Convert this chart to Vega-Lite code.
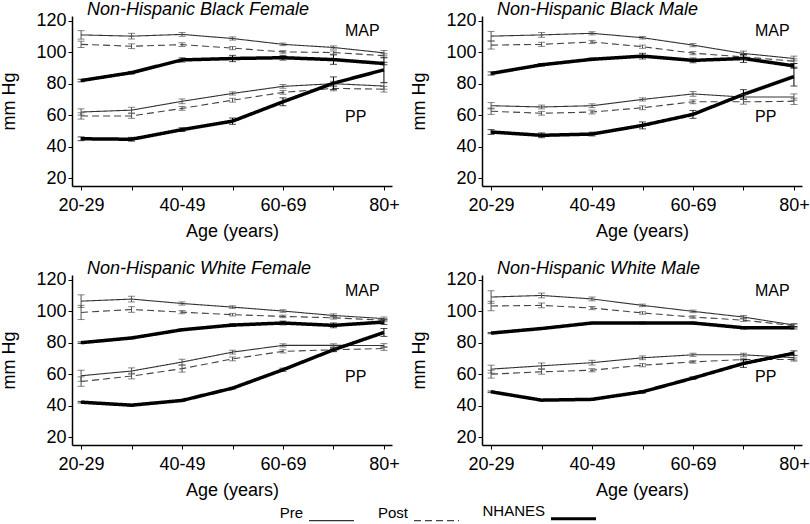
{
"$schema": "https://vega.github.io/schema/vega-lite/v6.json",
"padding": {"top": 0, "left": 0, "right": 0, "bottom": 0},
"background": "white",
"config": {
  "font": "Liberation Sans",
  "view": {"stroke": null},
  "axis": {"domainColor": "black", "domainWidth": 1.5, "tickColor": "black", "tickSize": 4, "tickWidth": 1, "labelFontSize": 18, "titleFontSize": 18, "titleFontWeight": "normal", "labelColor": "black", "titleColor": "black", "grid": false},
  "title": {"fontSize": 18, "fontStyle": "italic", "fontWeight": "normal", "anchor": "start", "frame": "group", "dx": 15, "dy": 10, "offset": 3, "baseline": "alphabetic", "color": "black"},
  "legend": {"labelFontSize": 15, "labelColor": "black"}
},
"datasets": {
  "labels": [
    {"p": "BF", "t": "MAP", "a": 5.57, "v": 113.4}, {"p": "BF", "t": "PP", "a": 5.44, "v": 59},
    {"p": "BM", "t": "MAP", "a": 5.57, "v": 113.4}, {"p": "BM", "t": "PP", "a": 5.44, "v": 59},
    {"p": "WF", "t": "MAP", "a": 5.57, "v": 112.8}, {"p": "WF", "t": "PP", "a": 5.44, "v": 58.5},
    {"p": "WM", "t": "MAP", "a": 5.57, "v": 112.8}, {"p": "WM", "t": "PP", "a": 5.44, "v": 58.1}
  ],
  "bp": [
    {"p":"BF","m":"MAP","s":"Pre","a":0,"v":111,"e":2.7},{"p":"BF","m":"MAP","s":"Pre","a":1,"v":110.2,"e":1.8},{"p":"BF","m":"MAP","s":"Pre","a":2,"v":111.3,"e":1.2},{"p":"BF","m":"MAP","s":"Pre","a":3,"v":108.7,"e":1.0},{"p":"BF","m":"MAP","s":"Pre","a":4,"v":105,"e":0.8},{"p":"BF","m":"MAP","s":"Pre","a":5,"v":103,"e":1.0},{"p":"BF","m":"MAP","s":"Pre","a":6,"v":99.6,"e":1.5},
    {"p":"BF","m":"MAP","s":"Post","a":0,"v":105,"e":2.0},{"p":"BF","m":"MAP","s":"Post","a":1,"v":103.8,"e":1.5},{"p":"BF","m":"MAP","s":"Post","a":2,"v":104.8,"e":1.2},{"p":"BF","m":"MAP","s":"Post","a":3,"v":102.6,"e":1.0},{"p":"BF","m":"MAP","s":"Post","a":4,"v":100.2,"e":0.8},{"p":"BF","m":"MAP","s":"Post","a":5,"v":99.8,"e":1.0},{"p":"BF","m":"MAP","s":"Post","a":6,"v":97.8,"e":1.5},
    {"p":"BF","m":"MAP","s":"NHANES","a":0,"v":82,"e":0.8},{"p":"BF","m":"MAP","s":"NHANES","a":1,"v":87,"e":0.8},{"p":"BF","m":"MAP","s":"NHANES","a":2,"v":95.1,"e":1.3},{"p":"BF","m":"MAP","s":"NHANES","a":3,"v":96,"e":2.0},{"p":"BF","m":"MAP","s":"NHANES","a":4,"v":96.5,"e":1.5},{"p":"BF","m":"MAP","s":"NHANES","a":5,"v":95.3,"e":3.0},{"p":"BF","m":"MAP","s":"NHANES","a":6,"v":92.8,"e":0.8},
    {"p":"BF","m":"PP","s":"Pre","a":0,"v":62,"e":2.0},{"p":"BF","m":"PP","s":"Pre","a":1,"v":63.2,"e":1.8},{"p":"BF","m":"PP","s":"Pre","a":2,"v":68.8,"e":1.5},{"p":"BF","m":"PP","s":"Pre","a":3,"v":73.8,"e":1.0},{"p":"BF","m":"PP","s":"Pre","a":4,"v":78.3,"e":1.2},{"p":"BF","m":"PP","s":"Pre","a":5,"v":80,"e":1.5},{"p":"BF","m":"PP","s":"Pre","a":6,"v":78.5,"e":2.0},
    {"p":"BF","m":"PP","s":"Post","a":0,"v":59.5,"e":2.0},{"p":"BF","m":"PP","s":"Post","a":1,"v":59.5,"e":1.5},{"p":"BF","m":"PP","s":"Post","a":2,"v":64.3,"e":1.2},{"p":"BF","m":"PP","s":"Post","a":3,"v":69.5,"e":1.2},{"p":"BF","m":"PP","s":"Post","a":4,"v":74.5,"e":1.2},{"p":"BF","m":"PP","s":"Post","a":5,"v":77,"e":1.5},{"p":"BF","m":"PP","s":"Post","a":6,"v":76.5,"e":1.8},
    {"p":"BF","m":"PP","s":"NHANES","a":0,"v":45,"e":1.2},{"p":"BF","m":"PP","s":"NHANES","a":1,"v":44.7,"e":1.2},{"p":"BF","m":"PP","s":"NHANES","a":2,"v":50.8,"e":1.2},{"p":"BF","m":"PP","s":"NHANES","a":3,"v":56.2,"e":2.0},{"p":"BF","m":"PP","s":"NHANES","a":4,"v":68.5,"e":2.5},{"p":"BF","m":"PP","s":"NHANES","a":5,"v":80.3,"e":4.0},{"p":"BF","m":"PP","s":"NHANES","a":6,"v":88.8,"e":8.0},

    {"p":"BM","m":"MAP","s":"Pre","a":0,"v":110.2,"e":3.0},{"p":"BM","m":"MAP","s":"Pre","a":1,"v":111,"e":1.5},{"p":"BM","m":"MAP","s":"Pre","a":2,"v":112,"e":1.0},{"p":"BM","m":"MAP","s":"Pre","a":3,"v":109.2,"e":0.8},{"p":"BM","m":"MAP","s":"Pre","a":4,"v":104.5,"e":1.0},{"p":"BM","m":"MAP","s":"Pre","a":5,"v":99.2,"e":1.5},{"p":"BM","m":"MAP","s":"Pre","a":6,"v":96,"e":1.5},
    {"p":"BM","m":"MAP","s":"Post","a":0,"v":104.5,"e":2.5},{"p":"BM","m":"MAP","s":"Post","a":1,"v":105,"e":1.3},{"p":"BM","m":"MAP","s":"Post","a":2,"v":106.5,"e":1.0},{"p":"BM","m":"MAP","s":"Post","a":3,"v":103.5,"e":1.0},{"p":"BM","m":"MAP","s":"Post","a":4,"v":99.4,"e":1.0},{"p":"BM","m":"MAP","s":"Post","a":5,"v":97,"e":1.5},{"p":"BM","m":"MAP","s":"Post","a":6,"v":94.3,"e":1.5},
    {"p":"BM","m":"MAP","s":"NHANES","a":0,"v":86.5,"e":1.0},{"p":"BM","m":"MAP","s":"NHANES","a":1,"v":92,"e":0.8},{"p":"BM","m":"MAP","s":"NHANES","a":2,"v":95.5,"e":0.8},{"p":"BM","m":"MAP","s":"NHANES","a":3,"v":97.5,"e":1.8},{"p":"BM","m":"MAP","s":"NHANES","a":4,"v":94.8,"e":1.5},{"p":"BM","m":"MAP","s":"NHANES","a":5,"v":96,"e":2.5},{"p":"BM","m":"MAP","s":"NHANES","a":6,"v":91.3,"e":1.5},
    {"p":"BM","m":"PP","s":"Pre","a":0,"v":66,"e":2.0},{"p":"BM","m":"PP","s":"Pre","a":1,"v":65.2,"e":1.2},{"p":"BM","m":"PP","s":"Pre","a":2,"v":66,"e":1.2},{"p":"BM","m":"PP","s":"Pre","a":3,"v":70,"e":1.0},{"p":"BM","m":"PP","s":"Pre","a":4,"v":73.5,"e":1.5},{"p":"BM","m":"PP","s":"Pre","a":5,"v":71.5,"e":1.5},{"p":"BM","m":"PP","s":"Pre","a":6,"v":71.5,"e":2.0},
    {"p":"BM","m":"PP","s":"Post","a":0,"v":62.5,"e":2.0},{"p":"BM","m":"PP","s":"Post","a":1,"v":61.2,"e":1.2},{"p":"BM","m":"PP","s":"Post","a":2,"v":62,"e":1.2},{"p":"BM","m":"PP","s":"Post","a":3,"v":64.7,"e":1.2},{"p":"BM","m":"PP","s":"Post","a":4,"v":68.5,"e":1.2},{"p":"BM","m":"PP","s":"Post","a":5,"v":68.5,"e":1.5},{"p":"BM","m":"PP","s":"Post","a":6,"v":68.8,"e":2.0},
    {"p":"BM","m":"PP","s":"NHANES","a":0,"v":49.3,"e":1.5},{"p":"BM","m":"PP","s":"NHANES","a":1,"v":47.2,"e":1.5},{"p":"BM","m":"PP","s":"NHANES","a":2,"v":48,"e":1.2},{"p":"BM","m":"PP","s":"NHANES","a":3,"v":53.5,"e":2.2},{"p":"BM","m":"PP","s":"NHANES","a":4,"v":60.5,"e":2.5},{"p":"BM","m":"PP","s":"NHANES","a":5,"v":73.2,"e":3.0},{"p":"BM","m":"PP","s":"NHANES","a":6,"v":84.5,"e":6.0},

    {"p":"WF","m":"MAP","s":"Pre","a":0,"v":106.4,"e":4.0},{"p":"WF","m":"MAP","s":"Pre","a":1,"v":107.7,"e":1.8},{"p":"WF","m":"MAP","s":"Pre","a":2,"v":104.9,"e":1.0},{"p":"WF","m":"MAP","s":"Pre","a":3,"v":102.6,"e":0.8},{"p":"WF","m":"MAP","s":"Pre","a":4,"v":100.1,"e":0.8},{"p":"WF","m":"MAP","s":"Pre","a":5,"v":97.3,"e":1.0},{"p":"WF","m":"MAP","s":"Pre","a":6,"v":95.3,"e":1.0},
    {"p":"WF","m":"MAP","s":"Post","a":0,"v":99.2,"e":4.5},{"p":"WF","m":"MAP","s":"Post","a":1,"v":101.1,"e":1.8},{"p":"WF","m":"MAP","s":"Post","a":2,"v":99.4,"e":1.0},{"p":"WF","m":"MAP","s":"Post","a":3,"v":97.8,"e":0.8},{"p":"WF","m":"MAP","s":"Post","a":4,"v":96.7,"e":0.8},{"p":"WF","m":"MAP","s":"Post","a":5,"v":95.8,"e":0.8},{"p":"WF","m":"MAP","s":"Post","a":6,"v":94.3,"e":1.0},
    {"p":"WF","m":"MAP","s":"NHANES","a":0,"v":80,"e":0.5},{"p":"WF","m":"MAP","s":"NHANES","a":1,"v":83,"e":0.5},{"p":"WF","m":"MAP","s":"NHANES","a":2,"v":88.2,"e":0.5},{"p":"WF","m":"MAP","s":"NHANES","a":3,"v":91.2,"e":0.8},{"p":"WF","m":"MAP","s":"NHANES","a":4,"v":92.5,"e":1.2},{"p":"WF","m":"MAP","s":"NHANES","a":5,"v":91,"e":1.5},{"p":"WF","m":"MAP","s":"NHANES","a":6,"v":93.1,"e":1.5},
    {"p":"WF","m":"PP","s":"Pre","a":0,"v":59,"e":3.5},{"p":"WF","m":"PP","s":"Pre","a":1,"v":62,"e":2.0},{"p":"WF","m":"PP","s":"Pre","a":2,"v":67.7,"e":1.8},{"p":"WF","m":"PP","s":"Pre","a":3,"v":74,"e":1.2},{"p":"WF","m":"PP","s":"Pre","a":4,"v":78.3,"e":1.0},{"p":"WF","m":"PP","s":"Pre","a":5,"v":78.3,"e":1.0},{"p":"WF","m":"PP","s":"Pre","a":6,"v":78.2,"e":1.2},
    {"p":"WF","m":"PP","s":"Post","a":0,"v":55.3,"e":3.0},{"p":"WF","m":"PP","s":"Post","a":1,"v":58.8,"e":1.8},{"p":"WF","m":"PP","s":"Post","a":2,"v":63.5,"e":2.2},{"p":"WF","m":"PP","s":"Post","a":3,"v":69.7,"e":1.2},{"p":"WF","m":"PP","s":"Post","a":4,"v":74.5,"e":1.0},{"p":"WF","m":"PP","s":"Post","a":5,"v":75.5,"e":1.0},{"p":"WF","m":"PP","s":"Post","a":6,"v":76.3,"e":1.2},
    {"p":"WF","m":"PP","s":"NHANES","a":0,"v":42.2,"e":0.5},{"p":"WF","m":"PP","s":"NHANES","a":1,"v":40.3,"e":0.5},{"p":"WF","m":"PP","s":"NHANES","a":2,"v":43.3,"e":0.5},{"p":"WF","m":"PP","s":"NHANES","a":3,"v":51.1,"e":0.5},{"p":"WF","m":"PP","s":"NHANES","a":4,"v":62.8,"e":1.0},{"p":"WF","m":"PP","s":"NHANES","a":5,"v":75.5,"e":1.2},{"p":"WF","m":"PP","s":"NHANES","a":6,"v":86.5,"e":2.5},

    {"p":"WM","m":"MAP","s":"Pre","a":0,"v":109,"e":4.0},{"p":"WM","m":"MAP","s":"Pre","a":1,"v":110,"e":1.5},{"p":"WM","m":"MAP","s":"Pre","a":2,"v":107.8,"e":1.2},{"p":"WM","m":"MAP","s":"Pre","a":3,"v":103.7,"e":0.8},{"p":"WM","m":"MAP","s":"Pre","a":4,"v":99.9,"e":0.8},{"p":"WM","m":"MAP","s":"Pre","a":5,"v":96.3,"e":1.0},{"p":"WM","m":"MAP","s":"Pre","a":6,"v":91.2,"e":1.0},
    {"p":"WM","m":"MAP","s":"Post","a":0,"v":103.3,"e":3.0},{"p":"WM","m":"MAP","s":"Post","a":1,"v":103.7,"e":1.5},{"p":"WM","m":"MAP","s":"Post","a":2,"v":102,"e":1.0},{"p":"WM","m":"MAP","s":"Post","a":3,"v":98.9,"e":0.8},{"p":"WM","m":"MAP","s":"Post","a":4,"v":96.3,"e":0.8},{"p":"WM","m":"MAP","s":"Post","a":5,"v":94.3,"e":0.8},{"p":"WM","m":"MAP","s":"Post","a":6,"v":90.8,"e":1.0},
    {"p":"WM","m":"MAP","s":"NHANES","a":0,"v":86.1,"e":0.4},{"p":"WM","m":"MAP","s":"NHANES","a":1,"v":89,"e":0.4},{"p":"WM","m":"MAP","s":"NHANES","a":2,"v":92.5,"e":0.4},{"p":"WM","m":"MAP","s":"NHANES","a":3,"v":92.5,"e":0.6},{"p":"WM","m":"MAP","s":"NHANES","a":4,"v":92.5,"e":0.6},{"p":"WM","m":"MAP","s":"NHANES","a":5,"v":89.5,"e":0.8},{"p":"WM","m":"MAP","s":"NHANES","a":6,"v":89.5,"e":0.8},
    {"p":"WM","m":"PP","s":"Pre","a":0,"v":63.2,"e":2.5},{"p":"WM","m":"PP","s":"Pre","a":1,"v":65.3,"e":1.8},{"p":"WM","m":"PP","s":"Pre","a":2,"v":67.3,"e":1.5},{"p":"WM","m":"PP","s":"Pre","a":3,"v":70.4,"e":1.2},{"p":"WM","m":"PP","s":"Pre","a":4,"v":72.3,"e":1.0},{"p":"WM","m":"PP","s":"Pre","a":5,"v":72.3,"e":1.0},{"p":"WM","m":"PP","s":"Pre","a":6,"v":70.5,"e":1.5},
    {"p":"WM","m":"PP","s":"Post","a":0,"v":60,"e":2.5},{"p":"WM","m":"PP","s":"Post","a":1,"v":61.5,"e":1.5},{"p":"WM","m":"PP","s":"Post","a":2,"v":62.5,"e":1.0},{"p":"WM","m":"PP","s":"Post","a":3,"v":65.7,"e":1.0},{"p":"WM","m":"PP","s":"Post","a":4,"v":67.8,"e":0.8},{"p":"WM","m":"PP","s":"Post","a":5,"v":69.3,"e":0.8},{"p":"WM","m":"PP","s":"Post","a":6,"v":69.3,"e":1.0},
    {"p":"WM","m":"PP","s":"NHANES","a":0,"v":48.8,"e":0.5},{"p":"WM","m":"PP","s":"NHANES","a":1,"v":43.5,"e":0.4},{"p":"WM","m":"PP","s":"NHANES","a":2,"v":44,"e":0.5},{"p":"WM","m":"PP","s":"NHANES","a":3,"v":48.8,"e":0.8},{"p":"WM","m":"PP","s":"NHANES","a":4,"v":57.5,"e":0.8},{"p":"WM","m":"PP","s":"NHANES","a":5,"v":66.8,"e":2.5},{"p":"WM","m":"PP","s":"NHANES","a":6,"v":73.3,"e":1.5}
  ]
},
"columns": 2,
"spacing": {"row": 89, "column": 90},
"bounds": "flush",
"concat": [
  {"width": 320, "height": 170, "title": {"text": "Non-Hispanic Black Female"},
   "layer": [
    {"data": {"name": "bp"}, "transform": [{"filter": "datum.p == 'BF'"}],
     "mark": {"type": "line"},
     "encoding": {
      "x": {"field": "a", "type": "quantitative", "title": "Age (years)", "scale": {"domain": [-0.18, 6.16], "nice": false, "zero": false}, "axis": {"values": [0,1,2,3,4,5,6], "labelExpr": "datum.value % 2 == 0 ? ['20-29','30-39','40-49','50-59','60-69','70-79','80+'][datum.value] : ''", "labelFlush": false, "labelOverlap": false, "labelPadding": 6, "titlePadding": 8}},
      "y": {"field": "v", "type": "quantitative", "title": "mm Hg", "scale": {"domain": [15, 123], "nice": false, "zero": false}, "axis": {"tickCount": 6, "titlePadding": 17, "labelPadding": 2, "labelOverlap": false, "labelBound": false}},
      "detail": {"field": "m", "type": "nominal"},
      "color": {"field": "s", "type": "nominal", "scale": {"domain": ["Pre","Post","NHANES"], "range": ["#333333","#444444","#000000"]}, "legend": {"orient": "none", "legendX": 252, "legendY": 495, "direction": "horizontal", "title": null, "symbolType": "stroke", "symbolSize": 2025, "labelOffset": -36, "labelAlign": "right", "labelBaseline": "bottom", "columnPadding": 20, "padding": 0, "encode": {"symbols": {"update": {"strokeWidth": {"signal": "datum.value === 'NHANES' ? 3 : 1.2"}, "strokeDash": {"signal": "datum.value === 'Post' ? [5,3] : [1,0]"}}}}}},
      "strokeDash": {"field": "s", "type": "nominal", "scale": {"domain": ["Pre","Post","NHANES"], "range": [[1,0],[7,4],[1,0]]}, "legend": null},
      "strokeWidth": {"condition": {"test": "datum.s == 'NHANES'", "value": 3.5}, "value": 1.1}}},
    {"data": {"name": "bp"}, "transform": [{"filter": "datum.p == 'BF'"}],
     "mark": {"type": "errorbar", "ticks": {"size": 7}, "thickness": 1},
     "encoding": {
      "x": {"field": "a", "type": "quantitative", "title": "Age (years)"},
      "y": {"field": "v", "type": "quantitative", "title": "mm Hg"},
      "yError": {"field": "e"},
      "color": {"condition": {"test": "datum.s == 'NHANES'", "value": "#000000"}, "value": "#505050"}}},
    {"data": {"name": "labels"}, "transform": [{"filter": "datum.p == 'BF'"}],
     "mark": {"type": "text", "fontSize": 16, "align": "center", "baseline": "middle", "color": "black"},
     "encoding": {"x": {"field": "a", "type": "quantitative", "title": "Age (years)"}, "y": {"field": "v", "type": "quantitative", "title": "mm Hg"}, "text": {"field": "t"}}}
   ]},
  {"width": 320, "height": 170, "title": {"text": "Non-Hispanic Black Male"},
   "layer": [
    {"data": {"name": "bp"}, "transform": [{"filter": "datum.p == 'BM'"}],
     "mark": {"type": "line"},
     "encoding": {
      "x": {"field": "a", "type": "quantitative", "title": "Age (years)", "scale": {"domain": [-0.18, 6.16], "nice": false, "zero": false}, "axis": {"values": [0,1,2,3,4,5,6], "labelExpr": "datum.value % 2 == 0 ? ['20-29','30-39','40-49','50-59','60-69','70-79','80+'][datum.value] : ''", "labelFlush": false, "labelOverlap": false, "labelPadding": 6, "titlePadding": 8}},
      "y": {"field": "v", "type": "quantitative", "title": "mm Hg", "scale": {"domain": [15, 123], "nice": false, "zero": false}, "axis": {"tickCount": 6, "titlePadding": 17, "labelPadding": 2, "labelOverlap": false, "labelBound": false}},
      "detail": {"field": "m", "type": "nominal"},
      "color": {"field": "s", "type": "nominal", "scale": {"domain": ["Pre","Post","NHANES"], "range": ["#333333","#444444","#000000"]}, "legend": null},
      "strokeDash": {"field": "s", "type": "nominal", "scale": {"domain": ["Pre","Post","NHANES"], "range": [[1,0],[7,4],[1,0]]}, "legend": null},
      "strokeWidth": {"condition": {"test": "datum.s == 'NHANES'", "value": 3.5}, "value": 1.1}}},
    {"data": {"name": "bp"}, "transform": [{"filter": "datum.p == 'BM'"}],
     "mark": {"type": "errorbar", "ticks": {"size": 7}, "thickness": 1},
     "encoding": {
      "x": {"field": "a", "type": "quantitative", "title": "Age (years)"},
      "y": {"field": "v", "type": "quantitative", "title": "mm Hg"},
      "yError": {"field": "e"},
      "color": {"condition": {"test": "datum.s == 'NHANES'", "value": "#000000"}, "value": "#505050"}}},
    {"data": {"name": "labels"}, "transform": [{"filter": "datum.p == 'BM'"}],
     "mark": {"type": "text", "fontSize": 16, "align": "center", "baseline": "middle", "color": "black"},
     "encoding": {"x": {"field": "a", "type": "quantitative", "title": "Age (years)"}, "y": {"field": "v", "type": "quantitative", "title": "mm Hg"}, "text": {"field": "t"}}}
   ]},
  {"width": 320, "height": 170, "title": {"text": "Non-Hispanic White Female"},
   "layer": [
    {"data": {"name": "bp"}, "transform": [{"filter": "datum.p == 'WF'"}],
     "mark": {"type": "line"},
     "encoding": {
      "x": {"field": "a", "type": "quantitative", "title": "Age (years)", "scale": {"domain": [-0.18, 6.16], "nice": false, "zero": false}, "axis": {"values": [0,1,2,3,4,5,6], "labelExpr": "datum.value % 2 == 0 ? ['20-29','30-39','40-49','50-59','60-69','70-79','80+'][datum.value] : ''", "labelFlush": false, "labelOverlap": false, "labelPadding": 6, "titlePadding": 8}},
      "y": {"field": "v", "type": "quantitative", "title": "mm Hg", "scale": {"domain": [15, 123], "nice": false, "zero": false}, "axis": {"tickCount": 6, "titlePadding": 17, "labelPadding": 2, "labelOverlap": false, "labelBound": false}},
      "detail": {"field": "m", "type": "nominal"},
      "color": {"field": "s", "type": "nominal", "scale": {"domain": ["Pre","Post","NHANES"], "range": ["#333333","#444444","#000000"]}, "legend": null},
      "strokeDash": {"field": "s", "type": "nominal", "scale": {"domain": ["Pre","Post","NHANES"], "range": [[1,0],[7,4],[1,0]]}, "legend": null},
      "strokeWidth": {"condition": {"test": "datum.s == 'NHANES'", "value": 3.5}, "value": 1.1}}},
    {"data": {"name": "bp"}, "transform": [{"filter": "datum.p == 'WF'"}],
     "mark": {"type": "errorbar", "ticks": {"size": 7}, "thickness": 1},
     "encoding": {
      "x": {"field": "a", "type": "quantitative", "title": "Age (years)"},
      "y": {"field": "v", "type": "quantitative", "title": "mm Hg"},
      "yError": {"field": "e"},
      "color": {"condition": {"test": "datum.s == 'NHANES'", "value": "#000000"}, "value": "#505050"}}},
    {"data": {"name": "labels"}, "transform": [{"filter": "datum.p == 'WF'"}],
     "mark": {"type": "text", "fontSize": 16, "align": "center", "baseline": "middle", "color": "black"},
     "encoding": {"x": {"field": "a", "type": "quantitative", "title": "Age (years)"}, "y": {"field": "v", "type": "quantitative", "title": "mm Hg"}, "text": {"field": "t"}}}
   ]},
  {"width": 320, "height": 170, "title": {"text": "Non-Hispanic White Male"},
   "layer": [
    {"data": {"name": "bp"}, "transform": [{"filter": "datum.p == 'WM'"}],
     "mark": {"type": "line"},
     "encoding": {
      "x": {"field": "a", "type": "quantitative", "title": "Age (years)", "scale": {"domain": [-0.18, 6.16], "nice": false, "zero": false}, "axis": {"values": [0,1,2,3,4,5,6], "labelExpr": "datum.value % 2 == 0 ? ['20-29','30-39','40-49','50-59','60-69','70-79','80+'][datum.value] : ''", "labelFlush": false, "labelOverlap": false, "labelPadding": 6, "titlePadding": 8}},
      "y": {"field": "v", "type": "quantitative", "title": "mm Hg", "scale": {"domain": [15, 123], "nice": false, "zero": false}, "axis": {"tickCount": 6, "titlePadding": 17, "labelPadding": 2, "labelOverlap": false, "labelBound": false}},
      "detail": {"field": "m", "type": "nominal"},
      "color": {"field": "s", "type": "nominal", "scale": {"domain": ["Pre","Post","NHANES"], "range": ["#333333","#444444","#000000"]}, "legend": null},
      "strokeDash": {"field": "s", "type": "nominal", "scale": {"domain": ["Pre","Post","NHANES"], "range": [[1,0],[7,4],[1,0]]}, "legend": null},
      "strokeWidth": {"condition": {"test": "datum.s == 'NHANES'", "value": 3.5}, "value": 1.1}}},
    {"data": {"name": "bp"}, "transform": [{"filter": "datum.p == 'WM'"}],
     "mark": {"type": "errorbar", "ticks": {"size": 7}, "thickness": 1},
     "encoding": {
      "x": {"field": "a", "type": "quantitative", "title": "Age (years)"},
      "y": {"field": "v", "type": "quantitative", "title": "mm Hg"},
      "yError": {"field": "e"},
      "color": {"condition": {"test": "datum.s == 'NHANES'", "value": "#000000"}, "value": "#505050"}}},
    {"data": {"name": "labels"}, "transform": [{"filter": "datum.p == 'WM'"}],
     "mark": {"type": "text", "fontSize": 16, "align": "center", "baseline": "middle", "color": "black"},
     "encoding": {"x": {"field": "a", "type": "quantitative", "title": "Age (years)"}, "y": {"field": "v", "type": "quantitative", "title": "mm Hg"}, "text": {"field": "t"}}}
   ]}
]
}
